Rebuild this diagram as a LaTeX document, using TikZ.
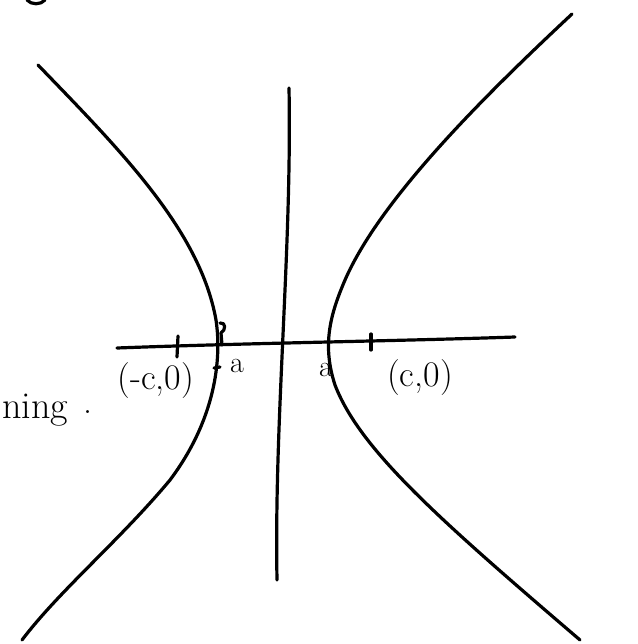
\documentclass[tikz,border=0pt]{standalone}
\begin{document}
\begin{tikzpicture}[x=1pt,y=-1pt,
  ink/.style={line width=3.2pt,line cap=round,line join=round},
  lbl/.style={font=\fontsize{36}{40}\selectfont,inner sep=0pt}]
\useasboundingbox (0,0) rectangle (637,644);
\clip (0,0) rectangle (637,644);
% axes
\coordinate (xl) at (117,348);
\coordinate (xr) at (515,337);
\coordinate (yt) at (289,88);
\coordinate (yb) at (277,580);
\draw[ink] (xl) .. controls (250,343) and (400,341) .. (xr);
\draw[ink] (yt) .. controls (292,250) and (274,420) .. (yb);
% ticks
\draw[ink] (178,336) -- (177,357);
\draw[ink] (371,334) -- (371,350);
% left branch
\draw[ink] (38,65) .. controls (120,150) and (200,230) .. (216,320)
  .. controls (222,360) and (215,420) .. (170,480)
  .. controls (120,540) and (60,590) .. (22,640);
% small mark at left vertex
\draw[ink] (220,323) .. controls (226,322) and (226,330) .. (221,333) -- (222,345);
% right branch
\draw[ink] (572,14) .. controls (480,100) and (380,200) .. (345,280)
  .. controls (330,315) and (322,345) .. (335,385)
  .. controls (360,450) and (440,520) .. (580,640);
% top-left fragment
\draw[ink] (27,0) .. controls (31,5) and (41,5) .. (45,0);
% labels
\node[lbl] (lc) at (156,381) {(-c,0)};
\draw[ink] (214,368) -- (220,367);
\node[lbl,font=\fontsize{30}{32}\selectfont] (ma) at (237,366) {a};
\node[lbl,font=\fontsize{30}{32}\selectfont] (pa) at (326,370) {a};
\node[lbl] (rc) at (420,378) {(c,0)};
\node[lbl,font=\fontsize{38}{42}\selectfont,anchor=base west] (ning) at (2,418) {ning};
\node[lbl] (dot) at (88,412) {.};
\end{tikzpicture}
\end{document}
